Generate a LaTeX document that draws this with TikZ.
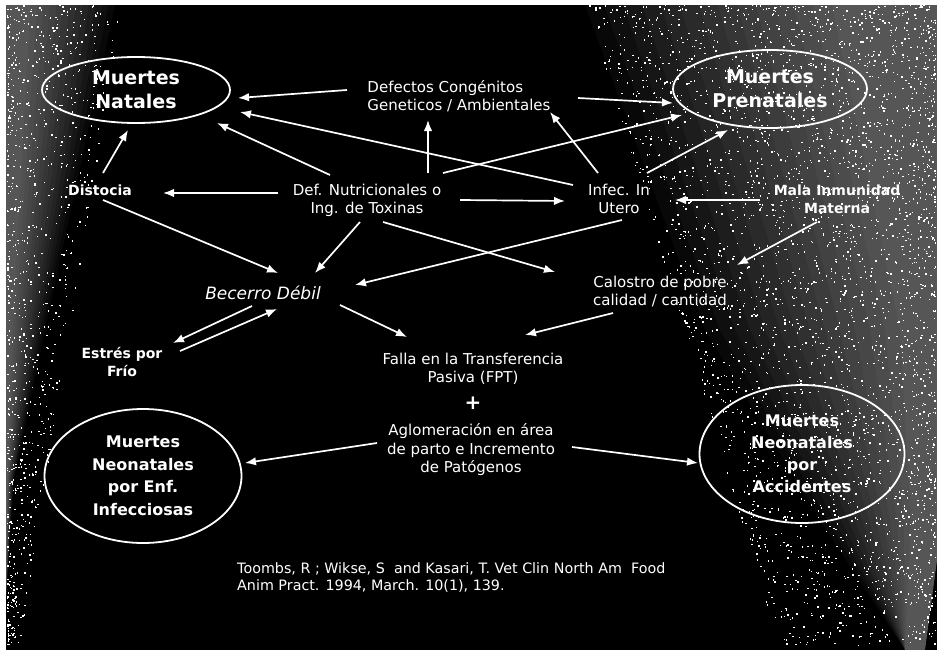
\documentclass[tikz,border=0pt]{standalone}
\usepackage{fontspec}
\setmainfont{DejaVu Sans}
\usetikzlibrary{arrows.meta,calc,shapes.geometric}
\begin{document}
\begin{tikzpicture}[x=1pt,y=-1pt,
  arr/.style={draw=white, line width=1.7pt, -{Latex[length=11pt,width=8.5pt]}},
  lbl/.style={text=white, font=\fontsize{15}{18}\selectfont, align=center, inner sep=1pt},
  blbl/.style={text=white, font=\bfseries\fontsize{14}{18}\selectfont, align=center, inner sep=1pt},
  oval/.style={ellipse, draw=white, line width=1.8pt, text=white, align=center, inner sep=0pt},
  speck/.style={fill=white},
  haze/.style={fill=white, fill opacity=0.032}
]
\useasboundingbox (0,0) rectangle (941,650);
\fill[white] (0,0) rectangle (941,650);
\fill[black] (6,5) rectangle (937,650);
% speckled edges of the scan
\foreach \k in {0,...,13}{
  \fill[haze] (585+19*\k,5) -- (937,5) -- (937,560) -- (925,650) -- (905,650) -- (820+7*\k,520) -- (705+15*\k,330) -- cycle;
  \fill[haze] (6,5) -- (115-6.5*\k,5) -- (45-2.5*\k,330) -- (14-0.5*\k,480) -- (6,600) -- cycle;
}
\pgfmathsetseed{7}
\foreach \i in {1,...,3200}{
  \pgfmathsetmacro{\yy}{5+640*rnd^1.3}
  \pgfmathsetmacro{\ww}{350-0.3*\yy}
  \pgfmathsetmacro{\xx}{935-\ww*rnd^1.3}
  \fill[speck] (\xx,\yy) rectangle ++(1.4,1.4);
}
\foreach \i in {1,...,900}{
  \pgfmathsetmacro{\yy}{5+640*rnd^1.4}
  \pgfmathsetmacro{\ww}{115-0.16*\yy}
  \pgfmathsetmacro{\xx}{7+\ww*rnd^1.6}
  \fill[speck] (\xx,\yy) rectangle ++(1.4,1.4);
}
% ovals
\node[oval, minimum width=188pt, minimum height=66pt, font=\bfseries\fontsize{19}{24}\selectfont] (nat) at (136,90) {Muertes\\Natales};
\node[oval, minimum width=194pt, minimum height=78pt, font=\bfseries\fontsize{19}{24}\selectfont] (pre) at (770,89) {Muertes\\Prenatales};
\node[oval, minimum width=197pt, minimum height=134pt, font=\bfseries\fontsize{16}{22.5}\selectfont] (inf) at (143,476) {Muertes\\Neonatales\\por Enf.\\Infecciosas};
\node[oval, minimum width=205pt, minimum height=138pt, font=\bfseries\fontsize{16}{22}\selectfont] (acc) at (802,454) {Muertes\\Neonatales\\por\\Accidentes};
% labels
\node[lbl, align=left] (defc) at (459,96) {Defectos Congénitos\\Geneticos / Ambientales};
\node[blbl] (dist) at (100,190) {Distocia};
\node[lbl] (nutr) at (367,200) {Def. Nutricionales o\\Ing. de Toxinas};
\node[lbl] (utero) at (619,199) {Infec. In\\Utero};
\node[blbl] (mala) at (837,199) {Mala Inmunidad\\Materna};
\node[lbl, font=\itshape\fontsize{17}{20}\selectfont] (bec) at (263,293) {Becerro Débil};
\node[lbl] (calo) at (660,291) {Calostro de pobre\\calidad / cantidad};
\node[blbl] (est) at (122,362) {Estrés por\\Frío};
\node[lbl] (falla) at (473,369) {Falla en la Transferencia\\Pasiva (FPT)};
\node[lbl, font=\bfseries\fontsize{20}{20}\selectfont] (plus) at (473,403) {+};
\node[lbl, font=\fontsize{15}{18.5}\selectfont] (aglo) at (471,450) {Aglomeración en área\\de parto e Incremento\\de Patógenos};
\node[lbl, align=left, anchor=west, inner sep=0pt, font=\fontsize{14.3}{17}\selectfont] (cit) at (237,578) {Toombs, R ; Wikse, S \ and Kasari, T. Vet Clin North Am \ Food\\Anim Pract. 1994, March. 10(1), 139.};
% connectors
\draw[arr] ($(defc)+(-112,-6)$) -- ($(nat)+(102,8)$);
\draw[arr] ($(defc)+(119,2)$) -- ($(pre)+(-97,14)$);
\draw[arr] ($(nutr)+(61,-27)$) -- ($(defc)+(-31,24)$);
\draw[arr] ($(utero)+(-21,-26)$) -- ($(defc)+(91,16)$);
\draw[arr] ($(utero)+(-46,-14)$) -- ($(nat)+(104,22)$);
\draw[arr] ($(nutr)+(-37,-25)$) -- ($(nat)+(81,33)$);
\draw[arr] ($(nutr)+(76,-27)$) -- ($(pre)+(-88,26)$);
\draw[arr] ($(utero)+(28,-26)$) -- ($(pre)+(-42,41)$);
\draw[arr] ($(nutr)+(-89,-7)$) -- ($(dist)+(63,3)$);
\draw[arr] ($(dist)+(3,-17)$) -- ($(nat)+(-8,40)$);
\draw[arr] ($(nutr)+(93,0)$) -- ($(utero)+(-54,2)$);
\draw[arr] ($(mala)+(-77,1)$) -- ($(utero)+(56,1)$);
\draw[arr] ($(mala)+(-20,23)$) -- ($(calo)+(77,-26)$);
\draw[arr] ($(dist)+(3,10)$) -- ($(bec)+(15,-20)$);
\draw[arr] ($(nutr)+(-7,22)$) -- ($(bec)+(52,-20)$);
\draw[arr] ($(utero)+(3,21)$) -- ($(bec)+(92,-8)$);
\draw[arr] ($(nutr)+(16,22)$) -- ($(calo)+(-105,-19)$);
\draw[arr] ($(calo)+(-47,22)$) -- ($(falla)+(52,-34)$);
\draw[arr] ($(bec)+(77,12)$) -- ($(falla)+(-66,-32)$);
\draw[arr] ($(bec)+(-11,13)$) -- ($(est)+(51,-19)$);
\draw[arr] ($(est)+(58,-11)$) -- ($(bec)+(14,16)$);
\draw[arr] ($(aglo)+(-94,-7)$) -- ($(inf)+(102,-13)$);
\draw[arr] ($(aglo)+(101,-3)$) -- ($(acc)+(-104,9)$);
\end{tikzpicture}
\end{document}
